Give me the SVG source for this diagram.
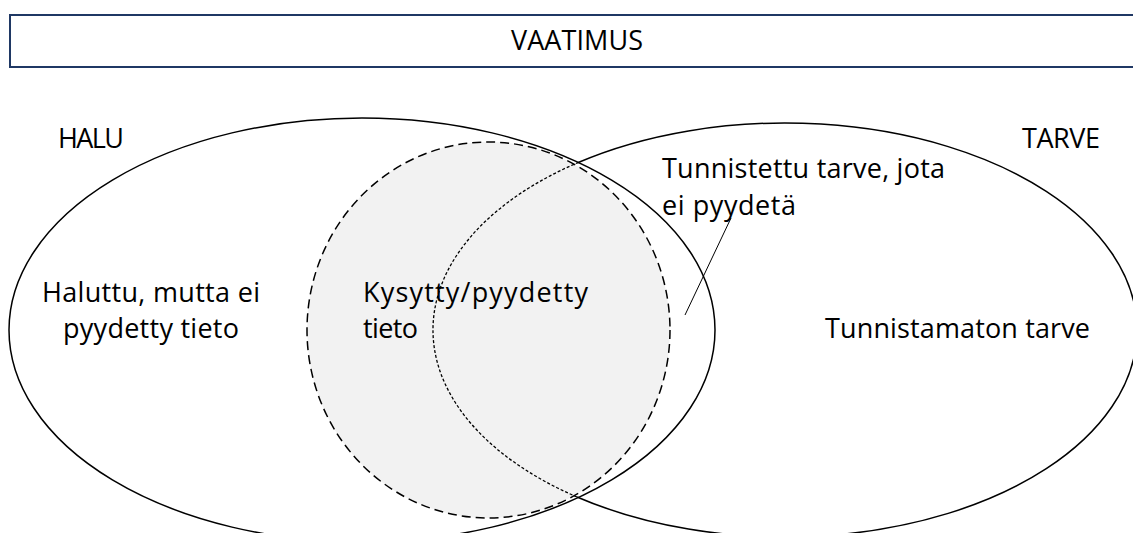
<svg xmlns="http://www.w3.org/2000/svg" width="1133" height="533" viewBox="0 0 1133 533">
  <style>
    .lbl { font-family: "Open Sans", "Liberation Sans", sans-serif; font-size: 27px; fill: #000; }
    .outline { fill: none; stroke: #000; stroke-width: 1.5; }
    .dotted { fill: none; stroke: #000; stroke-width: 1.3; stroke-dasharray: 3 2; }
    .dashed { fill: none; stroke: #000; stroke-width: 1.5; stroke-dasharray: 9 5; }
    .leader { stroke: #000; stroke-width: 1; fill: none; }
  </style>

  <!-- header bar -->
  <g id="vaatimus">
    <rect x="10" y="15" width="1130" height="52" fill="#fff" stroke="#1f3864" stroke-width="2"/>
    <text class="lbl" x="511" y="50" textLength="132">VAATIMUS</text>
  </g>

  <!-- shaded area of the asked-for set (fill drawn below all outlines) -->
  <ellipse id="kysytty-fill" cx="488.5" cy="330" rx="181.5" ry="188" fill="#f2f2f2"/>

  <!-- HALU: the want set -->
  <g id="halu">
    <ellipse class="outline" cx="362" cy="330" rx="353" ry="212"/>
    <text class="lbl" x="58" y="148" textLength="66">HALU</text>
    <text class="lbl" x="42" y="302" textLength="218">Haluttu, mutta ei</text>
    <text class="lbl" x="63" y="338" textLength="176">pyydetty tieto</text>
  </g>

  <!-- TARVE: the need set, dotted where it lies inside HALU -->
  <g id="tarve">
    <path class="outline" d="M 577 163 A 352 207 0 1 1 577 497"/>
    <path class="dotted" d="M 577 497 A 352 207 0 0 1 577 163"/>
    <text class="lbl" x="1022" y="148" textLength="78">TARVE</text>
    <text class="lbl" x="825" y="338" textLength="265">Tunnistamaton tarve</text>
  </g>

  <!-- asked / requested information -->
  <g id="kysytty">
    <ellipse class="dashed" cx="488.5" cy="330" rx="181.5" ry="188"/>
    <text class="lbl" x="363" y="302" textLength="225">Kysytty/pyydetty</text>
    <text class="lbl" x="363" y="338" textLength="55">tieto</text>
  </g>

  <!-- identified need that is not requested -->
  <g id="tunnistettu">
    <text class="lbl" x="662" y="178" textLength="283">Tunnistettu tarve, jota</text>
    <text class="lbl" x="662" y="215" textLength="134">ei pyydetä</text>
  </g>

  <!-- connectors -->
  <g id="connectors">
    <line class="leader" x1="731" y1="218" x2="685" y2="315"/>
  </g>
</svg>
